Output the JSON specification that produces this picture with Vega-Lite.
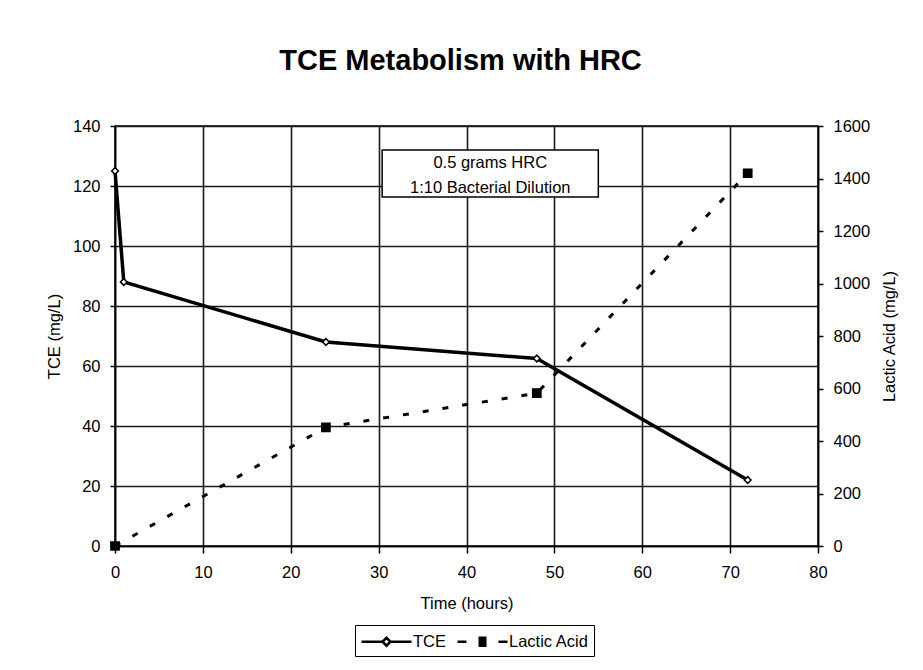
{
  "$schema": "https://vega.github.io/schema/vega-lite/v6.json",
  "width": 703,
  "height": 420,
  "autosize": {"type": "none"},
  "padding": {"left": 115, "top": 126, "right": 105, "bottom": 124},
  "background": "white",
  "title": {
    "text": "TCE Metabolism with HRC",
    "font": "Liberation Sans",
    "fontSize": 29,
    "fontWeight": "bold",
    "color": "black",
    "anchor": "middle",
    "frame": "group",
    "baseline": "alphabetic",
    "offset": 19,
    "dx": -6
  },
  "config": {
    "font": "Liberation Sans",
    "view": {"stroke": "black", "strokeWidth": 1.5},
    "axis": {
      "labelFont": "Liberation Sans",
      "labelFontSize": 16.5,
      "labelColor": "black",
      "titleFont": "Liberation Sans",
      "titleFontSize": 16.5,
      "titleFontWeight": "normal",
      "titleColor": "black",
      "domainColor": "black",
      "domainWidth": 1.5,
      "tickColor": "black",
      "tickWidth": 1.5,
      "gridColor": "#1a1a1a",
      "gridWidth": 1.6,
      "gridOpacity": 1,
      "labelFlush": false,
      "labelOverlap": false
    }
  },
  "datasets": {
    "tce": [
      {"time": 0, "tce": 125},
      {"time": 1, "tce": 88},
      {"time": 24, "tce": 68},
      {"time": 48, "tce": 62.5},
      {"time": 72, "tce": 22}
    ],
    "lac": [
      {"time": 0, "lactic": 0},
      {"time": 24, "lactic": 452},
      {"time": 48, "lactic": 582},
      {"time": 72, "lactic": 1420}
    ]
  },
  "resolve": {"scale": {"y": "independent"}},
  "layer": [
    {
      "data": {"name": "tce"},
      "layer": [
        {
          "data": {"values": [{"note": "box"}]},
          "mark": {"type": "rect", "fill": "white", "stroke": "black", "strokeWidth": 1.5},
          "encoding": {
            "x": {"datum": 30.4, "type": "quantitative"},
            "x2": {"datum": 55},
            "y": {"datum": 132, "type": "quantitative"},
            "y2": {"datum": 116.3}
          }
        },
        {
          "data": {"values": [{"note": "box"}]},
          "mark": {"type": "text", "font": "Liberation Sans", "fontSize": 16.5, "align": "center", "baseline": "middle", "color": "black"},
          "encoding": {
            "x": {"datum": 42.7, "type": "quantitative"},
            "y": {"datum": 127.7, "type": "quantitative"},
            "text": {"value": "0.5 grams HRC"}
          }
        },
        {
          "data": {"values": [{"note": "box"}]},
          "mark": {"type": "text", "font": "Liberation Sans", "fontSize": 16.5, "align": "center", "baseline": "middle", "color": "black"},
          "encoding": {
            "x": {"datum": 42.7, "type": "quantitative"},
            "y": {"datum": 119.3, "type": "quantitative"},
            "text": {"value": "1:10 Bacterial Dilution"}
          }
        },
        {
          "mark": {"type": "line", "stroke": "black", "strokeWidth": 3.5},
          "encoding": {
            "x": {
              "field": "time", "type": "quantitative",
              "scale": {"domain": [0, 80], "nice": false},
              "axis": {"title": "Time (hours)", "values": [0, 10, 20, 30, 40, 50, 60, 70, 80], "grid": true, "tickSize": 7, "labelPadding": 11, "titlePadding": 15}
            },
            "y": {
              "field": "tce", "type": "quantitative",
              "scale": {"domain": [0, 140], "nice": false},
              "axis": {"title": "TCE (mg/L)", "orient": "left", "values": [0, 20, 40, 60, 80, 100, 120, 140], "grid": true, "tickSize": 5, "labelPadding": 10, "titlePadding": 10}
            }
          }
        },
        {
          "mark": {"type": "point", "shape": "diamond", "filled": true, "fill": "white", "stroke": "black", "strokeWidth": 1.5, "size": 45, "opacity": 1},
          "encoding": {
            "x": {"field": "time", "type": "quantitative"},
            "y": {"field": "tce", "type": "quantitative"}
          }
        },
        {
          "transform": [{"filter": "datum.time < 0"}],
          "mark": {"type": "point", "filled": false, "color": "black", "strokeWidth": 2.5, "opacity": 1},
          "encoding": {
            "x": {"field": "time", "type": "quantitative"},
            "y": {"field": "tce", "type": "quantitative"},
            "shape": {
              "field": "series", "type": "nominal",
              "scale": {"domain": ["TCE", "Lactic Acid"], "range": [
                "M-1,0H1.1M1.9,0H4M1.5,-0.4L1.9,0L1.5,0.4L1.1,0Z",
                "M-1,0H-0.1M1.1,-0.4H1.9M1.1,-0.2H1.9M1.1,0H1.9M1.1,0.2H1.9M1.1,0.4H1.9M3.1,0H4"
              ]},
              "legend": {"orient": "none", "legendX": 240, "legendY": 499, "direction": "horizontal", "title": null, "symbolSize": 400, "symbolStrokeWidth": 2.5, "symbolStrokeColor": "black", "symbolFillColor": "transparent", "symbolOpacity": 1, "strokeColor": "black", "padding": 5, "labelFont": "Liberation Sans", "labelFontSize": 16.5, "labelColor": "black", "labelOffset": 30, "columnPadding": 6}
            }
          }
        }
      ]
    },
    {
      "data": {"name": "lac"},
      "layer": [
        {
          "mark": {"type": "line", "stroke": "black", "strokeWidth": 3, "strokeDash": [6, 14]},
          "encoding": {
            "x": {"field": "time", "type": "quantitative"},
            "y": {
              "field": "lactic", "type": "quantitative",
              "scale": {"domain": [0, 1600], "nice": false},
              "axis": {"title": "Lactic Acid (mg/L)", "orient": "right", "format": "d", "values": [0, 200, 400, 600, 800, 1000, 1200, 1400, 1600], "grid": false, "tickSize": 5, "labelPadding": 10, "titlePadding": 12, "titleAngle": 270, "titleBaseline": "top"}
            }
          }
        },
        {
          "mark": {"type": "point", "shape": "square", "filled": true, "fill": "black", "stroke": "black", "size": 60, "opacity": 1},
          "encoding": {
            "x": {"field": "time", "type": "quantitative"},
            "y": {"field": "lactic", "type": "quantitative"}
          }
        }
      ]
    }
  ]
}
